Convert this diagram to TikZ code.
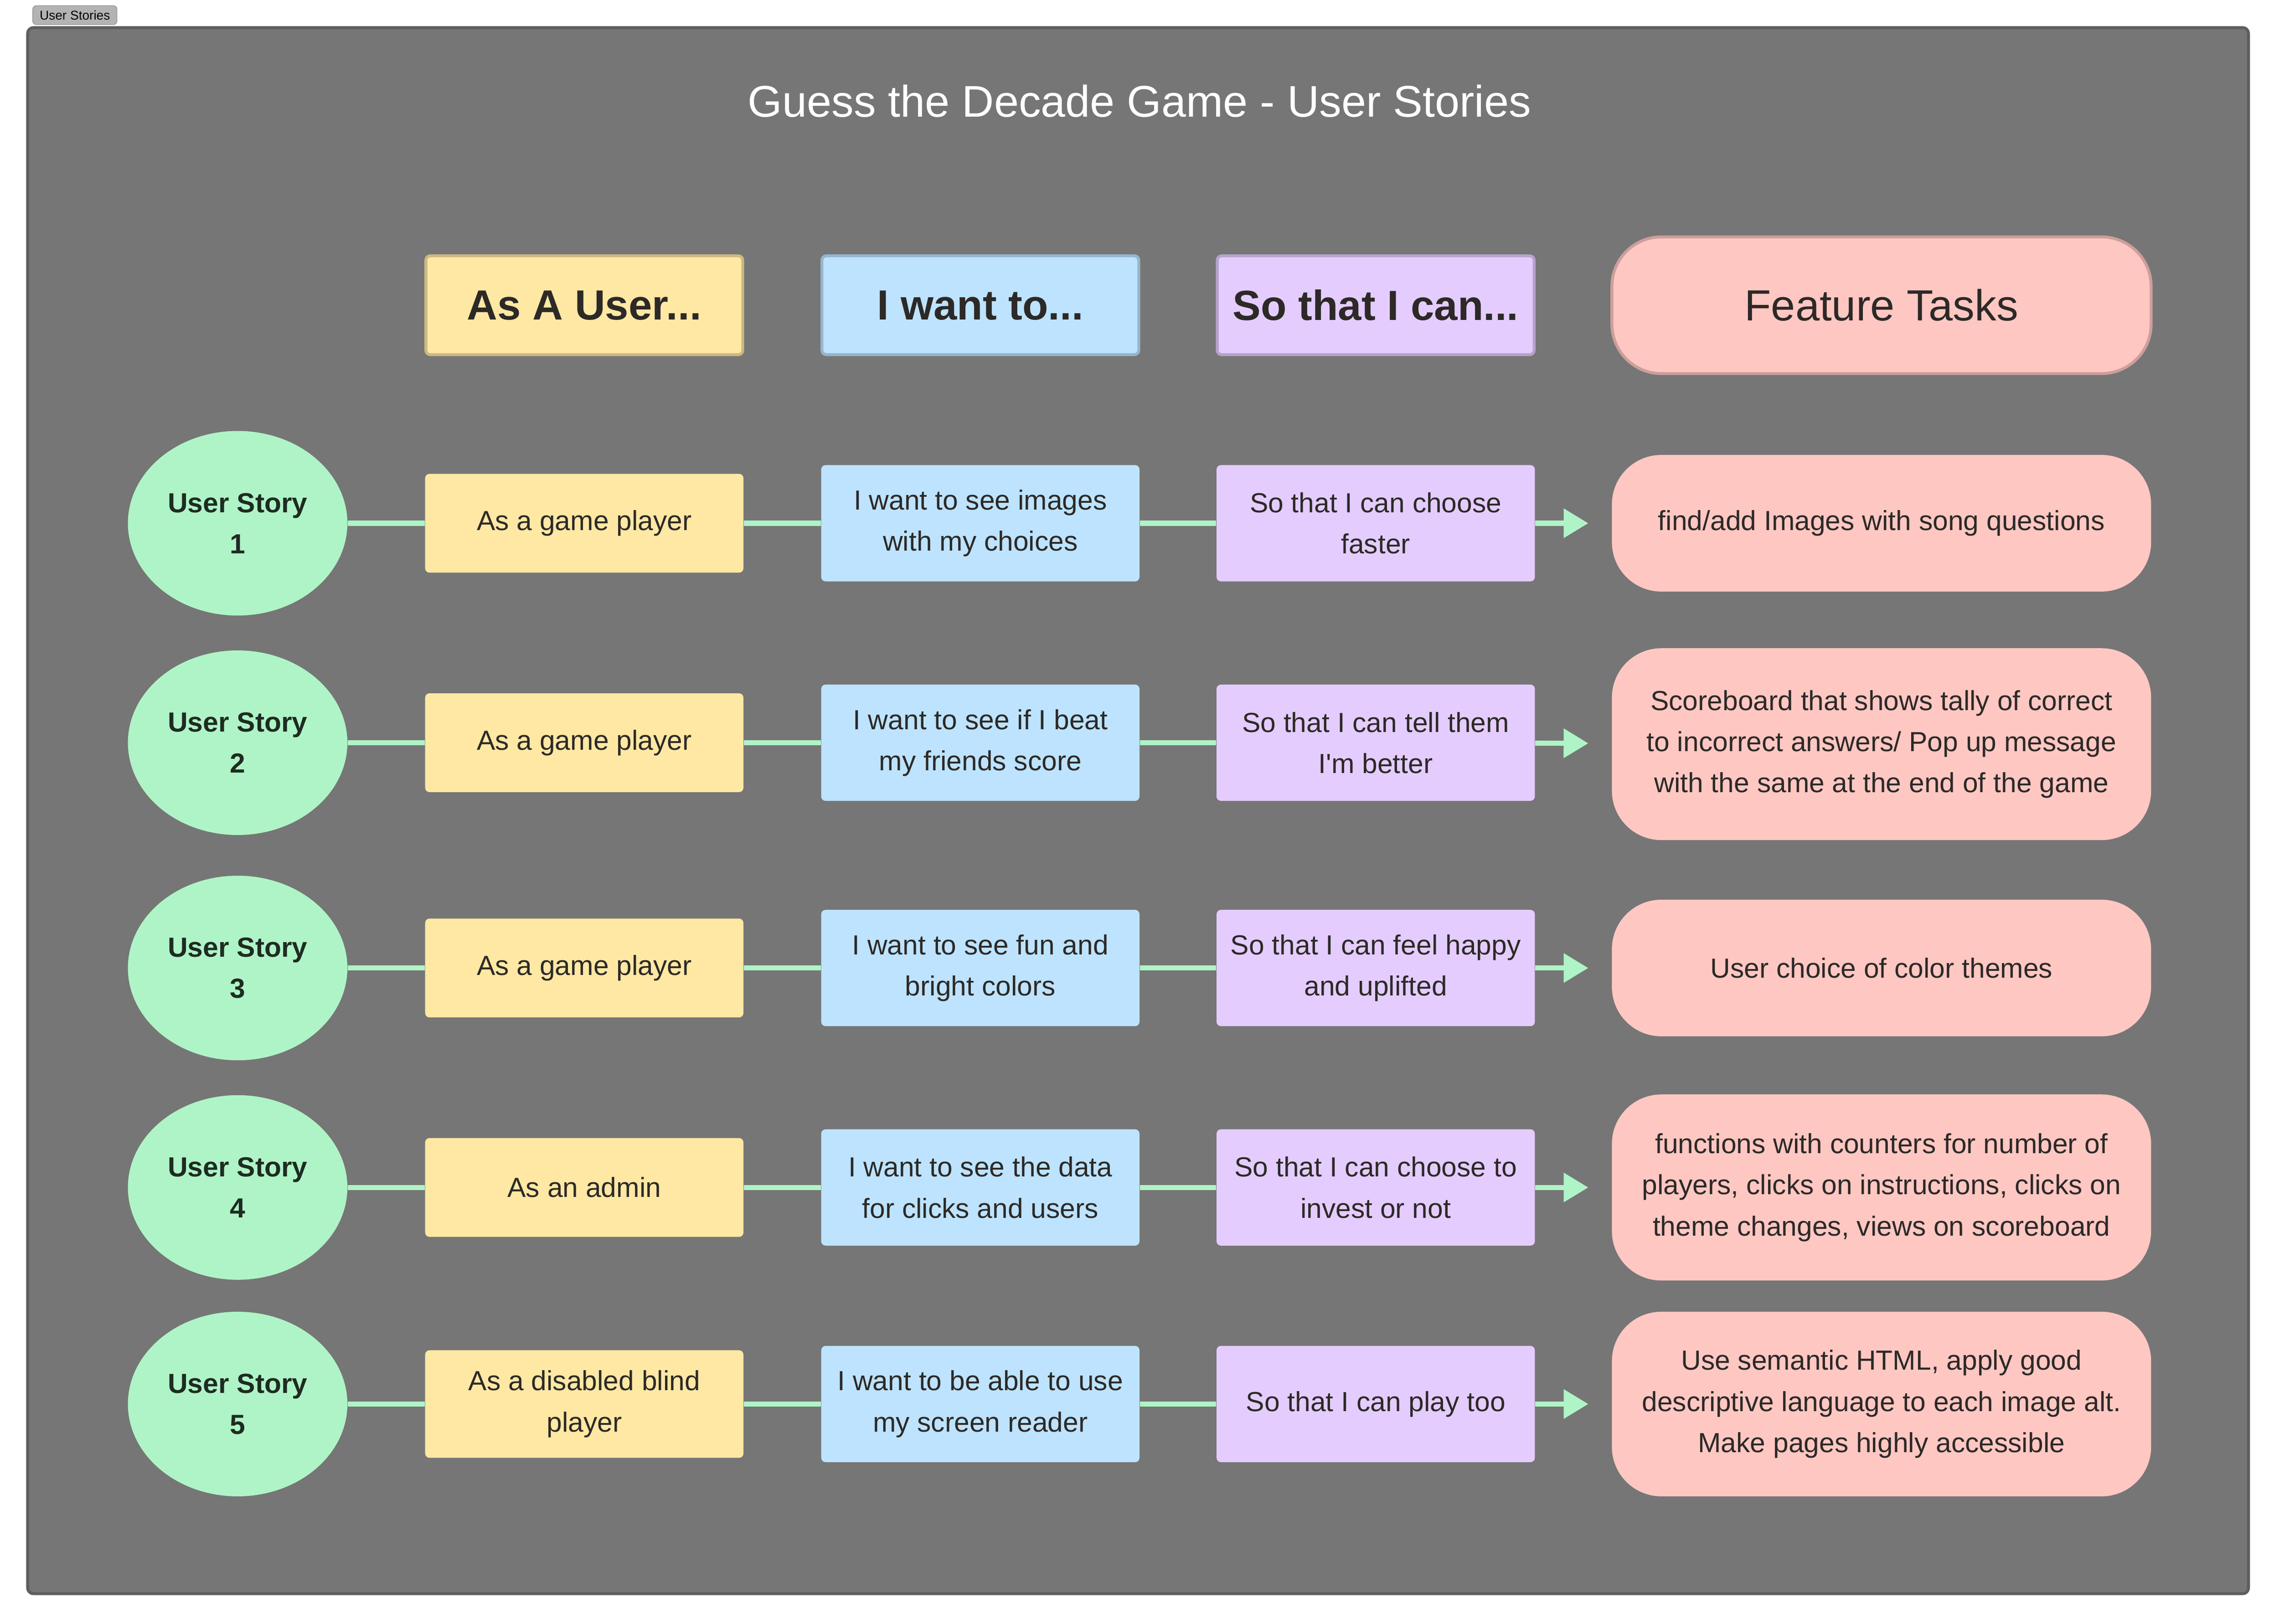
\documentclass[tikz,border=0pt]{standalone}
\usepackage{fontspec}
\setmainfont{Liberation Sans}[Ligatures=TeXOff]
\usetikzlibrary{arrows.meta,shapes.geometric}

\definecolor{boardgray}{HTML}{767676}
\definecolor{boardedge}{HTML}{5E5E5E}
\definecolor{taggray}{HTML}{B3B3B3}
\definecolor{tagedge}{HTML}{999999}
\definecolor{stickyyellow}{HTML}{FFE8A3}
\definecolor{yellowedge}{HTML}{CCB982}
\definecolor{stickyblue}{HTML}{BDE3FF}
\definecolor{blueedge}{HTML}{96B5CC}
\definecolor{stickypurple}{HTML}{E4CCFF}
\definecolor{purpleedge}{HTML}{B6A3CC}
\definecolor{stickypink}{HTML}{FFC7C2}
\definecolor{pinkedge}{HTML}{CC9F9B}
\definecolor{stickygreen}{HTML}{AFF4C6}
\definecolor{inkdark}{HTML}{2C2927}
\definecolor{inkgreen}{HTML}{1E2B22}

\tikzset{
  board/.style={fill=boardgray, draw=boardedge, line width=2pt, rounded corners=4pt},
  tag/.style={rectangle, rounded corners=2.5pt, fill=taggray, draw=tagedge, line width=0.5pt,
    minimum width=58pt, minimum height=13pt, inner sep=0pt, font=\fontsize{8.8}{10}\selectfont},
  titletext/.style={text=white, inner sep=0pt, font=\fontsize{30.5}{36}\selectfont},
  hdr/.style={rectangle, rounded corners=3pt, line width=2pt, minimum width=218pt,
    minimum height=68pt, inner sep=0pt, text=inkdark, font=\bfseries\fontsize{29}{34}\selectfont},
  hdrtask/.style={rectangle, rounded corners=34pt, line width=2pt, fill=stickypink, draw=pinkedge,
    minimum width=371pt, minimum height=94pt, inner sep=0pt, text=inkdark,
    font=\fontsize{30}{36}\selectfont},
  story/.style={ellipse, fill=stickygreen, minimum width=151pt, minimum height=127pt,
    inner sep=0pt, align=center, text=inkgreen, font=\bfseries\fontsize{19}{28.3}\selectfont},
  sticky/.style={rectangle, rounded corners=3pt, minimum width=219pt, inner sep=0pt,
    align=center, text=inkdark, font=\fontsize{19}{28.3}\selectfont},
  asbox/.style={sticky, fill=stickyyellow, minimum height=68pt},
  wantbox/.style={sticky, fill=stickyblue, minimum height=80pt},
  canbox/.style={sticky, fill=stickypurple, minimum height=80pt},
  taskbox/.style={rectangle, rounded corners=34pt, fill=stickypink, minimum width=371pt,
    inner sep=0pt, align=center, text=inkdark, font=\fontsize{19}{28.3}\selectfont},
  link/.style={draw=stickygreen, line width=3.5pt},
  flow/.style={link, -{Triangle[length=17pt,width=19.5pt]}, shorten >=16pt}
}

\begin{document}
\begin{tikzpicture}[x=1pt,y=-1pt]
  \fill[white] (0,0) rectangle (1568,1117.3);
  \useasboundingbox (0,0) rectangle (1568,1117.3);

  %% board
  \node[tag] (tag) at (51.5,10.4) {User Stories};
  \draw[board] (19,19) rectangle (1547,1096.5);
  \node[titletext] (title) at (784,69.5) {Guess the Decade Game - User Stories};

  %% column headers
  \node[hdr, fill=stickyyellow, draw=yellowedge] (hAs) at (402,210) {As A User...};
  \node[hdr, fill=stickyblue, draw=blueedge] (hWant) at (674.5,210) {I want to...};
  \node[hdr, fill=stickypurple, draw=purpleedge] (hCan) at (946.5,210) {So that I can...};
  \node[hdrtask] (hTask) at (1294.5,210) {Feature Tasks};

  %% story 1
  \node[story] (s1) at (163.5,360) {User Story\\1};
  \node[asbox] (a1) at (402,360) {As a game player};
  \node[wantbox] (w1) at (674.5,360) {I want to see images\\with my choices};
  \node[canbox] (c1) at (946.5,360) {So that I can choose\\faster};
  \node[taskbox, minimum height=94pt] (t1) at (1294.5,360) {find/add Images with song questions};

  %% story 2
  \node[story] (s2) at (163.5,511) {User Story\\2};
  \node[asbox] (a2) at (402,511) {As a game player};
  \node[wantbox] (w2) at (674.5,511) {I want to see if I beat\\my friends score};
  \node[canbox] (c2) at (946.5,511) {So that I can tell them\\I'm better};
  \node[taskbox, minimum height=132pt] (t2) at (1294.5,512) {Scoreboard that shows tally of correct\\to incorrect answers/ Pop up message\\with the same at the end of the game};

  %% story 3
  \node[story] (s3) at (163.5,666) {User Story\\3};
  \node[asbox] (a3) at (402,666) {As a game player};
  \node[wantbox] (w3) at (674.5,666) {I want to see fun and\\bright colors};
  \node[canbox] (c3) at (946.5,666) {So that I can feel happy\\and uplifted};
  \node[taskbox, minimum height=94pt] (t3) at (1294.5,666) {User choice of color themes};

  %% story 4
  \node[story] (s4) at (163.5,817) {User Story\\4};
  \node[asbox] (a4) at (402,817) {As an admin};
  \node[wantbox] (w4) at (674.5,817) {I want to see the data\\for clicks and users};
  \node[canbox] (c4) at (946.5,817) {So that I can choose to\\invest or not};
  \node[taskbox, minimum height=128pt] (t4) at (1294.5,817) {functions with counters for number of\\players, clicks on instructions, clicks on\\theme changes, views on scoreboard};

  %% story 5
  \node[story] (s5) at (163.5,966) {User Story\\5};
  \node[asbox, minimum height=74pt] (a5) at (402,966) {As a disabled blind\\player};
  \node[wantbox] (w5) at (674.5,966) {I want to be able to use\\my screen reader};
  \node[canbox] (c5) at (946.5,966) {So that I can play too};
  \node[taskbox, minimum height=127pt] (t5) at (1294.5,966) {Use semantic HTML, apply good\\descriptive language to each image alt.\\Make pages highly accessible};

  %% connectors
  \draw[link] (s1) -- (a1);  \draw[link] (a1) -- (w1);  \draw[link] (w1) -- (c1);  \draw[flow] (c1) -- (t1);
  \draw[link] (s2) -- (a2);  \draw[link] (a2) -- (w2);  \draw[link] (w2) -- (c2);  \draw[flow] (c2) -- (t2);
  \draw[link] (s3) -- (a3);  \draw[link] (a3) -- (w3);  \draw[link] (w3) -- (c3);  \draw[flow] (c3) -- (t3);
  \draw[link] (s4) -- (a4);  \draw[link] (a4) -- (w4);  \draw[link] (w4) -- (c4);  \draw[flow] (c4) -- (t4);
  \draw[link] (s5) -- (a5);  \draw[link] (a5) -- (w5);  \draw[link] (w5) -- (c5);  \draw[flow] (c5) -- (t5);

\end{tikzpicture}
\end{document}
